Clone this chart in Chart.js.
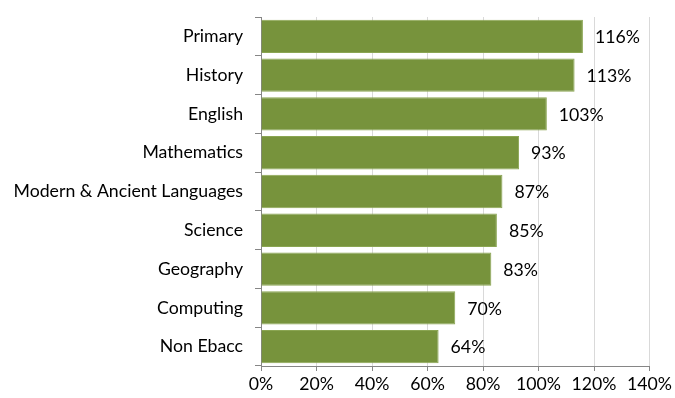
<!DOCTYPE html>
<html>
<head>
<meta charset="utf-8">
<script src="https://cdn.jsdelivr.net/npm/chart.js@4/dist/chart.umd.min.js"></script>
<style>
  html, body { margin: 0; padding: 0; background: #fff; }
  #wrap { width: 675px; height: 398px; }
</style>
</head>
<body>
<div id="wrap"><canvas id="chart" width="675" height="398"></canvas></div>
<script>
var categories = ['Primary', 'History', 'English', 'Mathematics', 'Modern & Ancient Languages',
    'Science', 'Geography', 'Computing', 'Non Ebacc'];
var values = [116, 113, 103, 93, 87, 85, 83, 70, 64];
var tickMax = 140;
var tickStep = 20;

var FONT = 'Lato, "Liberation Sans", sans-serif';
var FSIZE = 17.7;

// draw the % labels at the end of each bar
var barLabels = {
    id: 'barLabels',
    afterDatasetsDraw: function (chart) {
        var ctx = chart.ctx;
        var meta = chart.getDatasetMeta(0);
        ctx.save();
        ctx.font = FSIZE + 'px ' + FONT;
        ctx.fillStyle = '#000';
        ctx.textAlign = 'left';
        ctx.textBaseline = 'middle';
        meta.data.forEach(function (bar, i) {
            ctx.fillText(values[i] + '%', bar.x + 12, bar.y + 1);
        });
        ctx.restore();
    }
};

new Chart(document.getElementById('chart').getContext('2d'), {
    type: 'bar',
    data: {
        labels: categories,
        datasets: [{
            data: values,
            backgroundColor: '#77933C',
            borderColor: '#8aa552',
            borderWidth: 1,
            barPercentage: 0.86,
            categoryPercentage: 1
        }]
    },
    options: {
        indexAxis: 'y',
        responsive: false,
        animation: false,
        layout: { padding: { top: 17, right: 24, left: 0, bottom: 0 } },
        plugins: {
            legend: { display: false },
            tooltip: { enabled: false }
        },
        scales: {
            y: {
                offset: true,
                afterFit: function (scale) {
                    scale.width = 261;
                    scale.paddingTop = 0;
                    scale.paddingBottom = 0;
                },
                grid: {
                    offset: true,
                    drawOnChartArea: false,
                    tickLength: 6,
                    tickColor: '#868686'
                },
                border: { color: '#868686' },
                ticks: {
                    color: '#000',
                    padding: 12,
                    font: { family: FONT, size: FSIZE }
                }
            },
            x: {
                min: 0,
                max: tickMax,
                afterFit: function (scale) { scale.height = 32; },
                grid: {
                    color: '#d9d9d9',
                    tickColor: '#868686',
                    tickLength: 5
                },
                border: { color: '#868686' },
                ticks: {
                    stepSize: tickStep,
                    color: '#000',
                    padding: 3,
                    font: { family: FONT, size: FSIZE },
                    callback: function (v) { return v + '%'; }
                }
            }
        }
    },
    plugins: [barLabels]
});
</script>
</body>
</html>
